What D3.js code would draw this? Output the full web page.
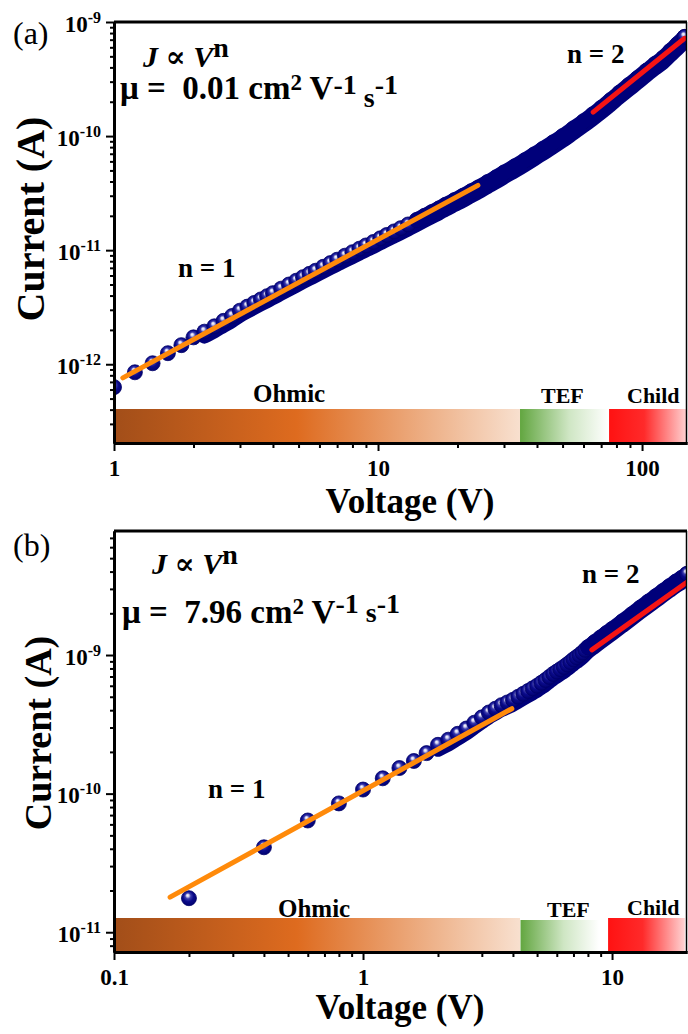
<!DOCTYPE html>
<html lang="en">
<head>
<meta charset="UTF-8">
<script src="https://d3js.org/d3.v7.min.js"></script>
<title>J-V log plots</title>
<style>
  body { margin: 0; background: #fff; }
  text { font-family: "Liberation Serif", "Times New Roman", "DejaVu Serif", serif; white-space: pre; }
</style>
</head>
<body>
<script>
// ---- panel (a) data ----
var voltageA = [1.0, 1.2, 1.4, 1.6, 1.8, 2.0, 2.2, 2.4, 2.6, 2.8, 3.0, 3.2, 3.4, 3.6, 3.8, 4.0, 4.3, 4.6, 4.9, 5.2,
                5.5, 5.8, 6.2, 6.6, 7.0, 7.5, 8.0, 8.5, 9.0, 9.6, 10.2, 10.8, 11.5, 12.2, 13, 14, 15, 16, 17, 18,
                19.5, 21, 22.5, 24, 26, 28, 30, 33, 36, 39, 42, 46, 50, 55, 60, 65, 70, 76, 82, 89,
                96, 104, 112, 120, 128, 136, 145];
var currentA = [6.3e-13, 8.5e-13, 1.02e-12, 1.25e-12, 1.47e-12, 1.72e-12, 1.93e-12, 2.15e-12, 2.4e-12, 2.65e-12,
                2.95e-12, 3.2e-12, 3.45e-12, 3.7e-12, 3.95e-12, 4.2e-12, 4.6e-12, 5.0e-12, 5.4e-12, 5.8e-12,
                6.2e-12, 6.6e-12, 7.15e-12, 7.7e-12, 8.25e-12, 8.95e-12, 9.6e-12, 1.03e-11, 1.1e-11, 1.18e-11,
                1.27e-11, 1.36e-11, 1.46e-11, 1.56e-11, 1.68e-11, 1.84e-11, 2.0e-11, 2.16e-11, 2.32e-11, 2.5e-11,
                2.75e-11, 3.0e-11, 3.28e-11, 3.55e-11, 3.95e-11, 4.35e-11, 4.8e-11, 5.45e-11, 6.15e-11, 6.9e-11,
                7.7e-11, 8.8e-11, 1.0e-10, 1.17e-10, 1.35e-10, 1.55e-10, 1.77e-10, 2.07e-10, 2.4e-10, 2.8e-10,
                3.22e-10, 3.75e-10, 4.3e-10, 4.85e-10, 5.6e-10, 6.4e-10, 7.4e-10];

// ---- panel (b) data ----
var voltageB = [0.2, 0.4, 0.6, 0.8, 1.0, 1.2, 1.4, 1.6, 1.8, 2.0, 2.2, 2.4, 2.6, 2.8, 3.0, 3.2, 3.4, 3.6, 3.8, 4.0,
                4.2, 4.4, 4.6, 4.8, 5.0, 5.2, 5.4, 5.6, 5.8, 6.0, 6.2, 6.4, 6.6, 6.8, 7.0, 7.2, 7.4, 7.6, 7.8, 8.0,
                8.5, 9, 9.5, 10, 11, 12, 13, 14, 15, 16, 17, 18, 19, 20];
var currentB = [1.76e-11, 4.1e-11, 6.4e-11, 8.5e-11, 1.07e-10, 1.29e-10, 1.53e-10, 1.72e-10, 1.96e-10, 2.25e-10,
                2.45e-10, 2.7e-10, 2.95e-10, 3.25e-10, 3.55e-10, 3.85e-10, 4.1e-10, 4.35e-10, 4.55e-10, 4.75e-10,
                5.0e-10, 5.25e-10, 5.5e-10, 5.75e-10, 6.0e-10, 6.3e-10, 6.6e-10, 6.95e-10, 7.3e-10, 7.6e-10,
                7.9e-10, 8.2e-10, 8.55e-10, 8.9e-10, 9.3e-10, 9.65e-10, 1.0e-9, 1.04e-9, 1.09e-9, 1.14e-9,
                1.24e-9, 1.34e-9, 1.44e-9, 1.54e-9, 1.75e-9, 1.97e-9, 2.2e-9, 2.43e-9, 2.66e-9, 2.9e-9,
                3.14e-9, 3.38e-9, 3.6e-9, 3.85e-9];

// fitted lines (end points)
var ohmicFitVoltageA = [1.08, 23.9];
var ohmicFitCurrentA = [7.6e-13, 3.7e-11];
var childFitVoltageA = [65.3, 145];
var childFitCurrentA = [1.62e-10, 7.2e-10];
var ohmicFitVoltageB = [0.168, 3.96];
var ohmicFitCurrentB = [1.79e-11, 4.1e-10];
var childFitVoltageB = [8.3, 20.1];
var childFitCurrentB = [1.09e-9, 3.38e-9];

// conduction regimes
var regimeNames = ["Ohmic", "TEF", "Child"];
var regimeStartA = [1, 34.5, 75];
var regimeEndA = [34.5, 75, 148];
var regimeStartB = [0.1, 4.29, 9.64];
var regimeEndB = [4.27, 8.87, 19.6];

var mobility = ["0.01", "7.96"];
var xMajorA = [1, 10, 100];
var xMajorB = [0.1, 1, 10];
var yExpA = [-12, -11, -10, -9];
var yExpB = [-11, -10, -9];

var navy = "#00007a";

var svg = d3.select("body").append("svg")
    .attr("width", 688)
    .attr("height", 1034);
svg.append("rect").attr("width", 688).attr("height", 1034).attr("fill", "#fff");

var defs = svg.append("defs");

var sphere = defs.append("radialGradient").attr("id", "sphere")
    .attr("cx", 0.5).attr("cy", 0.45).attr("r", 0.6).attr("fx", 0.4).attr("fy", 0.3);
[[0, "#ffffff"], [0.14, "#d0d0f0"], [0.32, "#3c3cac"], [0.58, "#0a0a8a"], [1, "#00006a"]].forEach(function(s) {
    sphere.append("stop").attr("offset", s[0]).attr("stop-color", s[1]);
});

var bandColors = {
    Ohmic: [[0, "#a24e19"], [0.45, "#de6b1f"], [1, "#f8e0cf"]],
    TEF: [[0, "#62a640"], [0.55, "#cfe6c4"], [1, "#ffffff"]],
    Child: [[0, "#ff1212"], [0.45, "#ff2a2a"], [1, "#ffd4d4"]]
};
regimeNames.forEach(function(n) {
    var lg = defs.append("linearGradient").attr("id", "grad" + n);
    bandColors[n].forEach(function(s) {
        lg.append("stop").attr("offset", s[0]).attr("stop-color", s[1]);
    });
});

var panels = [
    { key: "a", letter: "(a)", letterY: 44, top: 22, bottom: 443, left: 114, right: 687,
      xDomain: [1, 148], yDomain: [2.04e-13, 1e-9],
      volts: voltageA, amps: currentA, underFrom: 2.2, solidFrom: 14,
      ohmV: ohmicFitVoltageA, ohmI: ohmicFitCurrentA, childV: childFitVoltageA, childI: childFitCurrentA,
      regStart: regimeStartA, regEnd: regimeEndA, barTop: [409, 409, 409],
      regLabel: [[253, 402, 25], [541, 403, 22], [627, 403, 22]],
      xMajor: xMajorA, yExp: yExpA, mu: mobility[0],
      jx: 143, jy: 67, mx: 120, my: 99, muDy: [-5, 13, -13],
      n2: [567, 63], n1: [178, 277],
      ylabX: 44, ylabY: 219, ylabSize: 40, xlabX: 410, xlabY: 513 },
    { key: "b", letter: "(b)", letterY: 556, top: 531, bottom: 952, left: 114, right: 687,
      xDomain: [0.1, 20], yDomain: [7.2e-12, 7.85e-9],
      volts: voltageB, amps: currentB, underFrom: 1.9, solidFrom: 8,
      ohmV: ohmicFitVoltageB, ohmI: ohmicFitCurrentB, childV: childFitVoltageB, childI: childFitCurrentB,
      regStart: regimeStartB, regEnd: regimeEndB, barTop: [918, 920, 918],
      regLabel: [[278, 917, 25], [547, 917, 22], [627, 915, 22]],
      xMajor: xMajorB, yExp: yExpB, mu: mobility[1],
      jx: 152, jy: 574, mx: 122, my: 623, muDy: [-10, 9, -9],
      n2: [582, 583], n1: [208, 798],
      ylabX: 51, ylabY: 733, ylabSize: 38, xlabX: 400, xlabY: 1019 }
];

function isMajor(d) {
    var l = Math.log10(d);
    return Math.abs(l - Math.round(l)) < 1e-6;
}

function drawPanel(p) {
    var g = svg.append("g");
    var x = d3.scaleLog().domain(p.xDomain).range([p.left, p.right]);
    var y = d3.scaleLog().domain(p.yDomain).range([p.bottom, p.top]);

    defs.append("clipPath").attr("id", "clip" + p.key).append("rect")
        .attr("x", p.left).attr("y", p.top)
        .attr("width", p.right - p.left).attr("height", p.bottom - p.top);

    // regime bars
    g.selectAll("rect.regime")
        .data(regimeNames)
        .enter()
        .append("rect")
        .attr("class", "regime")
        .attr("x", function(d, i) { return x(p.regStart[i]); })
        .attr("width", function(d, i) { return x(p.regEnd[i]) - x(p.regStart[i]); })
        .attr("y", function(d, i) { return p.barTop[i]; })
        .attr("height", function(d, i) { return p.bottom - p.barTop[i]; })
        .attr("fill", function(d) { return "url(#grad" + d + ")"; });

    g.selectAll("text.regime")
        .data(regimeNames)
        .enter()
        .append("text")
        .attr("class", "regime")
        .attr("x", function(d, i) { return p.regLabel[i][0]; })
        .attr("y", function(d, i) { return p.regLabel[i][1]; })
        .attr("font-size", function(d, i) { return p.regLabel[i][2]; })
        .attr("font-weight", "bold")
        .text(function(d) { return d; });

    // data
    var pts = p.volts.map(function(v, i) { return { v: v, c: p.amps[i] }; });
    var line = d3.line()
        .x(function(d) { return x(d.v); })
        .y(function(d) { return y(d.c); })
        .curve(d3.curveMonotoneX);

    var dg = g.append("g").attr("clip-path", "url(#clip" + p.key + ")");

    dg.append("path")
        .datum(pts.filter(function(d) { return d.v >= p.underFrom; }))
        .attr("d", line)
        .attr("transform", "translate(0,5)")
        .attr("fill", "none")
        .attr("stroke", navy)
        .attr("stroke-width", 14)
        .attr("stroke-linecap", "round")
        .attr("stroke-linejoin", "round");

    dg.selectAll("circle.pt")
        .data(pts)
        .enter()
        .append("circle")
        .attr("class", "pt")
        .attr("cx", function(d) { return x(d.v); })
        .attr("cy", function(d) { return y(d.c); })
        .attr("r", 7.5)
        .attr("fill", "url(#sphere)")
        .attr("stroke", "#00006a")
        .attr("stroke-width", 0.8);

    dg.append("path")
        .datum(pts.filter(function(d) { return d.v >= p.solidFrom; }))
        .attr("d", line)
        .attr("fill", "none")
        .attr("stroke", navy)
        .attr("stroke-width", 15)
        .attr("stroke-linecap", "round")
        .attr("stroke-linejoin", "round");

    dg.append("circle")
        .datum(pts[pts.length - 1])
        .attr("cx", function(d) { return x(d.v); })
        .attr("cy", function(d) { return y(d.c); })
        .attr("r", 7.5)
        .attr("fill", "url(#sphere)")
        .attr("stroke", "#00006a")
        .attr("stroke-width", 0.8);

    // fits
    var fits = [[p.ohmV, p.ohmI, "#ff8a0a"], [p.childV, p.childI, "#f51414"]];
    fits.forEach(function(f) {
        var seg = f[0].map(function(v, i) { return { v: v, c: f[1][i] }; });
        dg.append("path")
            .datum(seg)
            .attr("d", d3.line().x(function(d) { return x(d.v); }).y(function(d) { return y(d.c); }))
            .attr("stroke", f[2])
            .attr("stroke-width", 5)
            .attr("stroke-linecap", "round")
            .attr("fill", "none");
    });

    // axes
    var yTicks = y.ticks();
    var yMinor = d3.axisLeft(y).tickValues(yTicks.filter(function(d) { return !isMajor(d); }))
        .tickSize(4).tickSizeOuter(0).tickFormat("");
    var yMajor = d3.axisLeft(y).tickValues(p.yExp.map(function(e) { return Math.pow(10, e); }))
        .tickSize(8).tickSizeOuter(0);
    g.append("g").attr("transform", "translate(" + p.left + ",0)").call(yMinor)
        .selectAll(".tick text").remove();
    var yg = g.append("g").attr("transform", "translate(" + p.left + ",0)").call(yMajor)
        .attr("font-size", 23).attr("font-weight", "bold");
    yg.selectAll(".tick text").each(function(d) {
        var t = d3.select(this).text(null).attr("x", -13).attr("y", 9).attr("dy", null).attr("fill", "#000");
        t.append("tspan").text("10");
        t.append("tspan").attr("dy", -9).attr("font-size", 16).text(String(Math.round(Math.log10(d))));
    });

    var xTicks = x.ticks().filter(function(d) { return x(d) < p.right - 1; });
    var xMinor = d3.axisBottom(x).tickValues(xTicks.filter(function(d) { return !isMajor(d); }))
        .tickSize(5).tickSizeOuter(0).tickFormat("");
    var xMajor = d3.axisBottom(x).tickValues(p.xMajor)
        .tickSize(8).tickSizeOuter(0).tickPadding(9)
        .tickFormat(function(d) { return String(d); });
    g.append("g").attr("transform", "translate(0," + p.bottom + ")").call(xMinor)
        .selectAll(".tick text").remove();
    g.append("g").attr("transform", "translate(0," + p.bottom + ")").call(xMajor)
        .attr("font-size", 23).attr("font-weight", "bold")
        .selectAll(".tick text").attr("fill", "#000");

    g.selectAll(".domain").attr("stroke", "#000").attr("stroke-width", 3);
    g.selectAll(".tick line").attr("stroke", "#000").attr("stroke-width", 2);

    // frame
    g.append("line").attr("x1", p.left).attr("x2", p.right).attr("y1", p.top).attr("y2", p.top)
        .attr("stroke", "#000").attr("stroke-width", 3);
    g.append("line").attr("x1", p.right - 0.5).attr("x2", p.right - 0.5).attr("y1", p.top).attr("y2", p.bottom)
        .attr("stroke", "#000").attr("stroke-width", 1.5);

    // titles and annotations
    g.append("text").attr("x", 13).attr("y", p.letterY).attr("font-size", 32).text(p.letter);

    var jt = g.append("text").attr("x", p.jx).attr("y", p.jy).attr("font-size", 30).attr("font-weight", "bold");
    jt.append("tspan").attr("font-style", "italic").text("J");
    jt.append("tspan").text(" \u221D ");
    jt.append("tspan").attr("font-style", "italic").text("V");
    jt.append("tspan").attr("dy", -10).attr("font-size", 28).text("n");

    var mt = g.append("text").attr("x", p.mx).attr("y", p.my).attr("font-size", 33).attr("font-weight", "bold");
    mt.append("tspan").text("\u03BC =  " + p.mu + " cm");
    mt.append("tspan").attr("dy", -9).attr("font-size", 23).text("2");
    mt.append("tspan").attr("dy", 9).text(" V");
    mt.append("tspan").attr("dy", p.muDy[0]).attr("font-size", 28).text("-1");
    mt.append("tspan").attr("dy", p.muDy[1]).attr("font-size", 28).text(" s");
    mt.append("tspan").attr("dy", p.muDy[2]).attr("font-size", 28).text("-1");

    g.append("text").attr("x", p.n2[0]).attr("y", p.n2[1]).attr("font-size", 27).attr("font-weight", "bold").text("n = 2");
    g.append("text").attr("x", p.n1[0]).attr("y", p.n1[1]).attr("font-size", 27).attr("font-weight", "bold").text("n = 1");

    g.append("text")
        .attr("transform", "translate(" + p.ylabX + "," + p.ylabY + ") rotate(-90)")
        .attr("text-anchor", "middle")
        .attr("font-size", p.ylabSize)
        .attr("font-weight", "bold")
        .text("Current (A)");
    g.append("text")
        .attr("x", p.xlabX).attr("y", p.xlabY)
        .attr("text-anchor", "middle")
        .attr("font-size", 35)
        .attr("font-weight", "bold")
        .text("Voltage (V)");
}

panels.forEach(drawPanel);
</script>
</body>
</html>
